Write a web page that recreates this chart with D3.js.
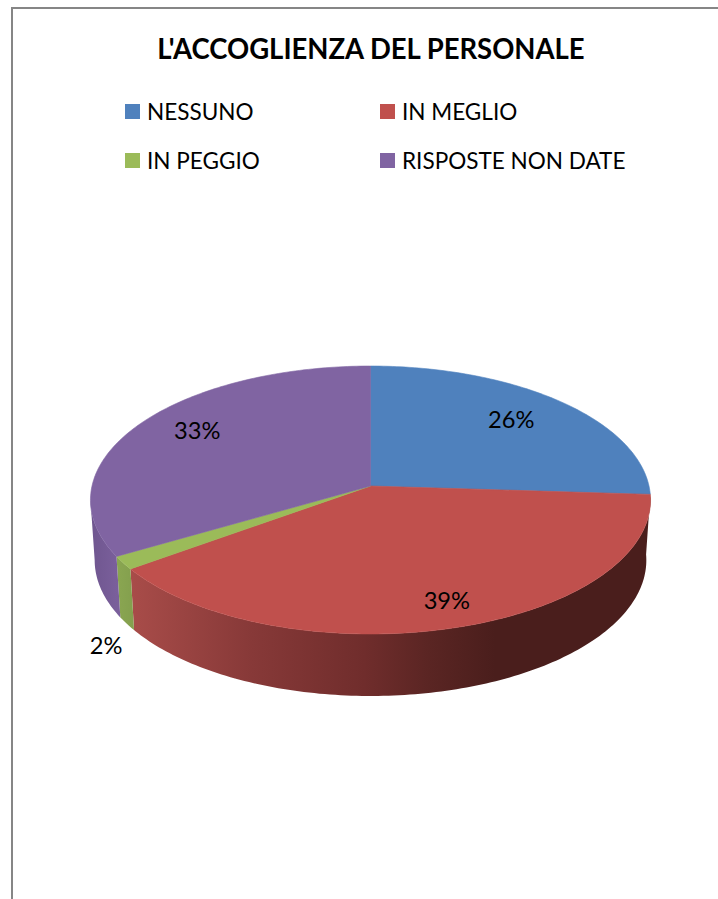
<!DOCTYPE html>
<html>
<head>
<meta charset="utf-8">
<style>
  html, body { margin: 0; padding: 0; background: #fff; }
  svg { display: block; }
  text { font-family: Lato, sans-serif; fill: #000; }
</style>
<script src="https://cdn.jsdelivr.net/npm/d3@7"></script>
</head>
<body>
<div id="chart"></div>
<script>
const title = "L'ACCOGLIENZA DEL PERSONALE"
const categories = ['NESSUNO', 'IN MEGLIO', 'IN PEGGIO', 'RISPOSTE NON DATE']
const values = [26, 39, 1.6, 33.4]
const topColors = ['#4f81bd', '#c0504d', '#9bbb59', '#8064a2']

const width = 718
const height = 899

const svg = d3.select('#chart').append('svg')
  .attr('width', width)
  .attr('height', height)

// frame, only left and top edges are in the crop
svg.append('path')
  .attr('d', d3.line()([[12, height], [12, 8], [width, 8]]))
  .attr('fill', 'none')
  .attr('stroke', '#868686')
  .attr('stroke-width', 2)

const fitText = (sel, size, scaleX) => sel
  .attr('font-size', size)
  .attr('transform', function () {
    const x = +this.getAttribute('data-x')
    const y = +this.getAttribute('data-y')
    return `translate(${x},${y}) scale(${scaleX},1)`
  })

svg.append('text')
  .attr('data-x', 371)
  .attr('data-y', 59)
  .attr('text-anchor', 'middle')
  .attr('font-weight', 700)
  .text(title)
  .call(fitText, 29, 0.947)

// legend, two columns two rows
const legendX = d3.scaleOrdinal().domain([0, 1]).range([125, 380])
const legendY = d3.scaleOrdinal().domain([0, 1]).range([104, 153])

const legend = svg.selectAll('g.legend')
  .data(categories)
  .enter()
  .append('g')
  .attr('class', 'legend')
  .attr('transform', (d, i) => 'translate(' + [legendX(i % 2), legendY(Math.floor(i / 2))] + ')')

legend.append('rect')
  .attr('width', 15)
  .attr('height', 15)
  .attr('fill', (d, i) => topColors[i])

legend.append('text')
  .attr('data-x', 22)
  .attr('data-y', 16)
  .text(d => d)
  .call(fitText, 23, 0.98)

// perspective projection of the pie disc
const cx = 370.5
const cy = 486
const rx = 278.5
const ry = 132.5
const k = 0.1045

const project = (angle, r = 1, level = 0) => {
  const u = Math.sin(angle) * r
  const v = -Math.cos(angle) * r
  const w = 1 - k * v
  const shrink = level ? 0.985 : 1
  const b = level ? 134.3 : ry
  return [cx + rx * shrink * u / w, cy + level + b * v / w]
}

const pie = d3.pie().sort(null).value(d => d)
const slices = pie(values)
const line = d3.line()
const depth = 60
const step = Math.PI / 180
// angle where the disc outline is furthest left
const leftEdge = 2 * Math.PI - Math.acos(-k)

const arcPoints = (a0, a1, level) => d3.range(a0, a1, step).concat([a1]).map(a => project(a, 1, level))

// side walls, only the parts that face the viewer
const wallStops = [
  [['0', '#a84c49'], ['0.33', '#873938'], ['0.64', '#702d2c'], ['0.82', '#5a2523'], ['1', '#4a1e1c']],
  [['0', '#8aa651'], ['1', '#84a04e']],
  [['0', '#6f568f'], ['1', '#7a5f9b']]
]
const defs = svg.append('defs')
const walls = [
  { a0: slices[1].startAngle, a1: slices[1].endAngle, stops: wallStops[0], color: 'red', x1: 132, x2: 495 },
  { a0: slices[2].startAngle, a1: slices[2].endAngle, stops: wallStops[1], color: 'green', x1: 117, x2: 132 },
  { a0: slices[3].startAngle, a1: leftEdge, stops: wallStops[2], color: 'purple', x1: 91, x2: 117 }
]

walls.forEach(w => {
  const grad = defs.append('linearGradient')
    .attr('id', 'wall-' + w.color)
    .attr('gradientUnits', 'userSpaceOnUse')
    .attr('x1', w.x1)
    .attr('x2', w.x2)
    .attr('y1', 0)
    .attr('y2', 0)
  grad.selectAll('stop')
    .data(w.stops)
    .enter()
    .append('stop')
    .attr('offset', d => d[0])
    .attr('stop-color', d => d[1])
})

svg.selectAll('path.wall')
  .data(walls)
  .enter()
  .append('path')
  .attr('class', 'wall')
  .attr('d', w => line(arcPoints(w.a0, w.a1, 0).concat(arcPoints(w.a0, w.a1, depth).reverse())) + 'Z')
  .attr('fill', w => `url(#wall-${w.color})`)

// top of the pie, thin own-colour stroke hides the seams between slices
svg.selectAll('path.slice')
  .data(slices)
  .enter()
  .append('path')
  .attr('class', 'slice')
  .attr('d', d => line([project(0, 0)].concat(arcPoints(d.startAngle, d.endAngle, 0))) + 'Z')
  .attr('fill', (d, i) => topColors[i])
  .attr('stroke', (d, i) => topColors[i])
  .attr('stroke-width', 0.6)

// labels: radius factor on the disc plus a small nudge, as placed in the original
const labelPlace = [[0.68, 9, -7], [0.83, 6, 0], [1, -17, 83], [0.75, 1, -7]]
const fmt = d3.format('.0%')

svg.selectAll('text.label')
  .data(slices)
  .enter()
  .append('text')
  .attr('class', 'label')
  .attr('text-anchor', 'middle')
  .attr('data-x', (d, i) => project((d.startAngle + d.endAngle) / 2, labelPlace[i][0])[0] + labelPlace[i][1])
  .attr('data-y', (d, i) => project((d.startAngle + d.endAngle) / 2, labelPlace[i][0])[1] + labelPlace[i][2] + 8)
  .text(d => fmt(d.value / 100))
  .call(fitText, 23, 1.03)
</script>
</body>
</html>
